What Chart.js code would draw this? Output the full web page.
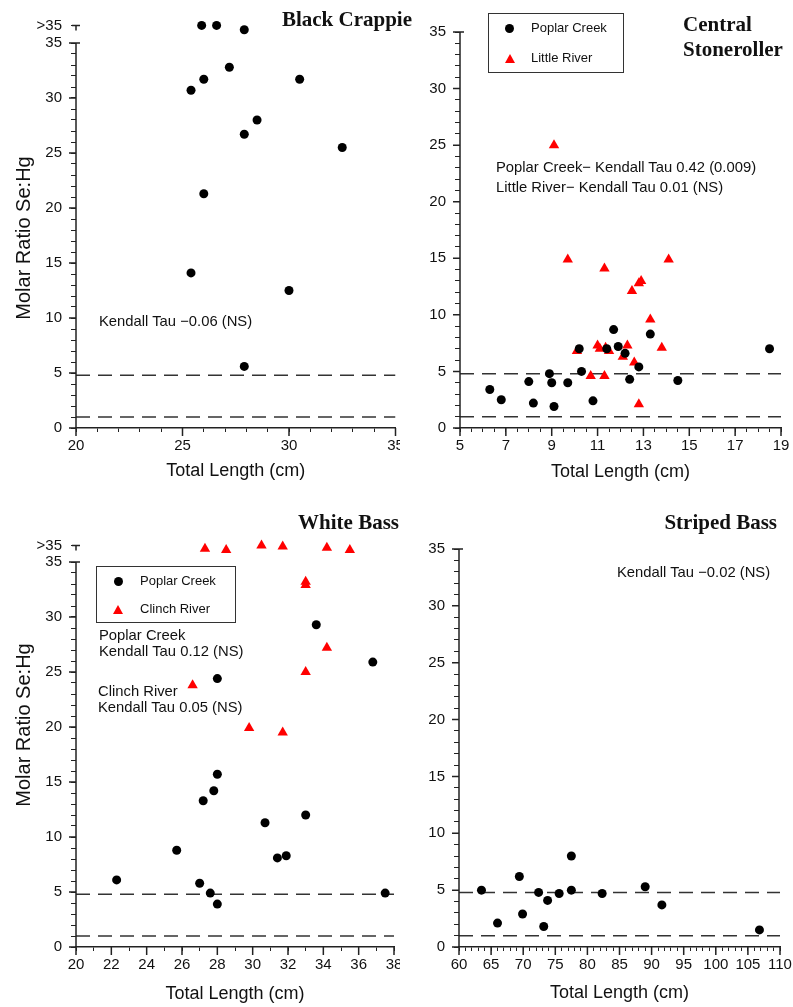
<!DOCTYPE html>
<html>
<head>
<meta charset="utf-8">
<script src="https://cdn.jsdelivr.net/npm/chart.js@4.4.1/dist/chart.umd.min.js"></script>
<style>
  html, body { margin: 0; padding: 0; background: #fff; }
  #wrap { position: relative; width: 793px; height: 1007px; overflow: hidden;
          font-family: "Liberation Sans", Arial, sans-serif; color: #111; }
  canvas { position: absolute; }
  .ttl  { position: absolute; font-family: "Liberation Serif", "Times New Roman", serif;
          font-weight: bold; font-size: 21px; line-height: 25px; white-space: nowrap; }
  .note { position: absolute; font-size: 14.8px; line-height: 17px; white-space: nowrap; }
  .ytl  { position: absolute; font-size: 20px; line-height: 24px; white-space: nowrap;
          transform: translate(-50%, -50%) rotate(-90deg); }
  .lg   { position: absolute; box-sizing: border-box; border: 1.5px solid #333; background: #fff; }
  .lgt  { position: absolute; font-size: 13px; line-height: 16px; white-space: nowrap; }
  .dot  { position: absolute; width: 9px; height: 9px; border-radius: 50%; background: #000; }
  .tri  { position: absolute; width: 0; height: 0; border-left: 5.5px solid transparent;
          border-right: 5.5px solid transparent; border-bottom: 9.5px solid #f00; }
</style>
</head>
<body>
<div id="wrap">
  <canvas id="bcChart" width="400" height="500" style="left:0;top:0"></canvas>
  <canvas id="csChart" width="393" height="500" style="left:400px;top:0"></canvas>
  <canvas id="wbChart" width="400" height="507" style="left:0;top:500px"></canvas>
  <canvas id="sbChart" width="393" height="507" style="left:400px;top:500px"></canvas>

  <!-- panel titles -->
  <div class="ttl" style="right:381px;top:6.5px">Black Crappie</div>
  <div class="ttl" style="left:683px;top:11.5px">Central<br>Stoneroller</div>
  <div class="ttl" style="right:394px;top:509.5px">White Bass</div>
  <div class="ttl" style="right:16px;top:509.5px">Striped Bass</div>

  <!-- y axis titles -->
  <div class="ytl" style="left:23px;top:238px">Molar Ratio Se:Hg</div>
  <div class="ytl" style="left:23px;top:725px">Molar Ratio Se:Hg</div>

  <!-- annotations -->
  <div class="note" style="left:99px;top:312.5px">Kendall Tau −0.06 (NS)</div>
  <div class="note" style="left:496px;top:157px;line-height:20px">Poplar Creek− Kendall Tau 0.42 (0.009)<br>Little River− Kendall Tau 0.01 (NS)</div>
  <div class="note" style="left:99px;top:626.5px;line-height:16.5px">Poplar Creek<br>Kendall Tau 0.12 (NS)</div>
  <div class="note" style="left:98px;top:682.7px;line-height:16.5px">Clinch River<br>Kendall Tau 0.05 (NS)</div>
  <div class="note" style="left:617px;top:563.5px">Kendall Tau −0.02 (NS)</div>

  <!-- legends -->
  <div class="lg" style="left:488px;top:13px;width:136px;height:60px"></div>
  <div class="dot" style="left:504.5px;top:23.5px"></div>
  <div class="lgt" style="left:531px;top:20px">Poplar Creek</div>
  <div class="tri" style="left:504.5px;top:53.5px"></div>
  <div class="lgt" style="left:531px;top:50px">Little River</div>

  <div class="lg" style="left:96px;top:566px;width:140px;height:57px"></div>
  <div class="dot" style="left:113.5px;top:576.5px"></div>
  <div class="lgt" style="left:140px;top:573px">Poplar Creek</div>
  <div class="tri" style="left:112.5px;top:604.5px"></div>
  <div class="lgt" style="left:140px;top:601px">Clinch River</div>
</div>

<script>
// ── Data (values >35 are plotted on the ">35" row) ─────────────────────────
const bcLength = [25.9, 26.6, 27.9, 27.2, 26.0, 30.5, 25.4, 28.5, 27.9, 32.5, 26.0, 25.4, 30.0, 27.9];
const bcRatio  = [36.6, 36.6, 36.2, 32.8, 31.7, 31.7, 30.7, 28.0, 26.7, 25.5, 21.3, 14.1, 12.5, 5.6];

const csPoplarLength = [6.3, 6.8, 8.0, 8.2, 8.9, 9.0, 9.1, 9.7, 10.2, 10.3, 10.8, 11.4, 11.7, 11.9, 12.2, 12.4, 12.8, 13.3, 14.5, 18.5];
const csPoplarRatio  = [3.4, 2.5, 4.1, 2.2, 4.8, 4.0, 1.9, 4.0, 7.0, 5.0, 2.4, 7.0, 8.7, 7.2, 6.6, 4.3, 5.4, 8.3, 4.2, 7.0];
const csLittleLength = [9.1, 9.7, 11.3, 14.1, 12.5, 12.8, 12.9, 13.3, 11.0, 11.1, 11.35, 11.5, 10.1, 12.3, 12.1, 12.6, 13.8, 10.7, 11.3, 12.8];
const csLittleRatio  = [25.0, 14.9, 14.1, 14.9, 12.1, 12.8, 13.0, 9.6, 7.3, 7.0, 7.1, 6.8, 6.8, 7.3, 6.3, 5.8, 7.1, 4.6, 4.6, 2.1];

const wbPoplarLength = [22.3, 25.7, 27.0, 27.2, 27.6, 27.8, 28.0, 28.0, 30.7, 31.4, 31.9, 33.0, 37.5, 28.0, 33.6, 36.8];
const wbPoplarRatio  = [6.1, 8.8, 5.8, 13.3, 4.9, 14.2, 3.9, 15.7, 11.3, 8.1, 8.3, 12.0, 4.9, 24.4, 29.3, 25.9];
const wbClinchLength = [27.3, 28.5, 30.5, 31.7, 34.2, 35.5, 33.0, 33.0, 34.2, 33.0, 26.6, 29.8, 31.7];
const wbClinchRatio  = [36.2, 36.1, 36.5, 36.4, 36.3, 36.1, 33.2, 32.9, 27.2, 25.0, 23.8, 19.9, 19.5];

const sbLength = [63.5, 66.0, 69.4, 69.9, 72.4, 73.2, 73.8, 75.6, 77.5, 77.5, 82.3, 89.0, 91.6, 106.8];
const sbRatio  = [5.0, 2.1, 6.2, 2.9, 4.8, 1.8, 4.1, 4.7, 8.0, 5.0, 4.7, 5.3, 3.7, 1.5];

const THRESHOLDS = [4.8, 1.0];   // dashed reference lines
const Y_TOP_TICK = 35;
const X_TITLE = 'Total Length (cm)';

Chart.defaults.font.family = '"Liberation Sans", Arial, sans-serif';
Chart.defaults.color = '#111';

const isMult = (v, m) => Math.abs(v / m - Math.round(v / m)) < 1e-6;

// ── Long major ticks, y axis line and the ">35" break mark ────────────────
const axisDecor = {
    id: 'axisDecor',
    afterDraw(chart, args, opt) {
        const { ctx, chartArea: a, scales: { x, y } } = chart;
        ctx.save();
        ctx.strokeStyle = '#222';
        ctx.lineWidth = 1.5;
        ctx.beginPath();
        ctx.moveTo(a.left, a.bottom);
        ctx.lineTo(a.left, y.getPixelForValue(Y_TOP_TICK));
        for (let v = 0; v <= Y_TOP_TICK; v += 5) {
            const py = y.getPixelForValue(v);
            ctx.moveTo(a.left - 7, py);
            ctx.lineTo(a.left + (v === Y_TOP_TICK ? 4 : 0), py);
        }
        for (let v = x.min; v <= x.max + 1e-9; v += opt.xMajor) {
            const px = x.getPixelForValue(v);
            ctx.moveTo(px, a.bottom);
            ctx.lineTo(px, a.bottom + 8);
        }
        if (opt.yBreak) {
            const pb = y.getPixelForValue(opt.yBreak);
            ctx.moveTo(a.left - 4, pb);
            ctx.lineTo(a.left + 4, pb);
            ctx.moveTo(a.left, pb);
            ctx.lineTo(a.left, pb + 5);
        }
        ctx.stroke();
        ctx.restore();
    }
};

function makePanel(id, o) {
    const cv = document.getElementById(id);
    const W = cv.width, H = cv.height;

    const sets = o.series.map(s => ({
        data: s.xs.map((x, i) => ({ x, y: s.ys[i] })),
        pointStyle: s.style,
        pointRadius: s.style === 'triangle' ? 6 : 4.5,
        backgroundColor: s.color,
        borderWidth: 0,
        clip: false,
        order: 1,
    }));
    THRESHOLDS.forEach(t => sets.push({
        data: [{ x: o.xMin, y: t }, { x: o.xMax, y: t }],
        showLine: true,
        pointRadius: 0,
        borderColor: '#333',
        borderWidth: 1.5,
        borderDash: [14, 8],
        order: 2,
    }));

    return new Chart(cv, {
        type: 'scatter',
        data: { datasets: sets },
        options: {
            responsive: false,
            animation: false,
            devicePixelRatio: 1,
            layout: { padding: { left: 0, top: o.area.t, right: W - o.area.r, bottom: 0 } },
            plugins: {
                legend: { display: false },
                tooltip: { enabled: false },
                axisDecor: { xMajor: o.xMajor, yBreak: o.yBreak },
            },
            scales: {
                x: {
                    type: 'linear', min: o.xMin, max: o.xMax,
                    ticks: {
                        stepSize: o.xStep, autoSkip: false, maxRotation: 0, padding: 5,
                        font: { size: 15 },
                        callback: v => isMult(v - o.xMin, o.xMajor) ? String(Math.round(v)) : '',
                    },
                    grid: { drawOnChartArea: false, tickLength: 4, tickColor: '#222' },
                    border: { color: '#222', width: 1.5 },
                    title: { display: true, text: X_TITLE, font: { size: 18 }, padding: { top: 0, bottom: o.titlePad } },
                    afterFit: s => { s.height = H - o.area.b; s.paddingLeft = 0; s.paddingRight = 0; },
                },
                y: {
                    type: 'linear', min: 0, max: o.yMax,
                    ticks: {
                        stepSize: 1, padding: 9, autoSkip: false, font: { size: 15 },
                        callback: v => v === o.yBreak ? '>35' : (v % 5 === 0 ? String(v) : ''),
                    },
                    afterBuildTicks: s => {
                        s.ticks = s.ticks.filter(t => t.value <= Y_TOP_TICK);
                        if (o.yBreak) s.ticks.push({ value: o.yBreak });
                    },
                    grid: { drawOnChartArea: false, tickLength: 5, tickColor: '#222' },
                    border: { display: false },
                    afterFit: s => { s.width = o.area.l; s.paddingTop = 0; s.paddingBottom = 0; },
                },
            },
        },
        plugins: [axisDecor],
    });
}

// ── 1. Black Crappie ──────────────────────────────────────────────────────
makePanel('bcChart', {
    xMin: 20, xMax: 35, xStep: 1, xMajor: 5, yMax: 37, yBreak: 36.6, titlePad: 18,
    area: { l: 76, t: 21, r: 397, b: 428 },
    series: [{ xs: bcLength, ys: bcRatio, style: 'circle', color: '#000' }],
});

// ── 2. Central Stoneroller ────────────────────────────────────────────────
makePanel('csChart', {
    xMin: 5, xMax: 19, xStep: 0.5, xMajor: 2, yMax: 35, yBreak: null, titlePad: 17,
    area: { l: 60, t: 32, r: 381, b: 428 },
    series: [
        { xs: csPoplarLength, ys: csPoplarRatio, style: 'circle', color: '#000' },
        { xs: csLittleLength, ys: csLittleRatio, style: 'triangle', color: '#f00' },
    ],
});

// ── 3. White Bass ─────────────────────────────────────────────────────────
makePanel('wbChart', {
    xMin: 20, xMax: 38, xStep: 1, xMajor: 2, yMax: 37, yBreak: 36.5, titlePad: 2,
    area: { l: 76, t: 40, r: 397, b: 447 },
    series: [
        { xs: wbPoplarLength, ys: wbPoplarRatio, style: 'circle', color: '#000' },
        { xs: wbClinchLength, ys: wbClinchRatio, style: 'triangle', color: '#f00' },
    ],
});

// ── 4. Striped Bass ───────────────────────────────────────────────────────
makePanel('sbChart', {
    xMin: 60, xMax: 110, xStep: 1, xMajor: 5, yMax: 35, yBreak: null, titlePad: 3,
    area: { l: 59, t: 49, r: 380, b: 447 },
    series: [{ xs: sbLength, ys: sbRatio, style: 'circle', color: '#000' }],
});
</script>
</body>
</html>
